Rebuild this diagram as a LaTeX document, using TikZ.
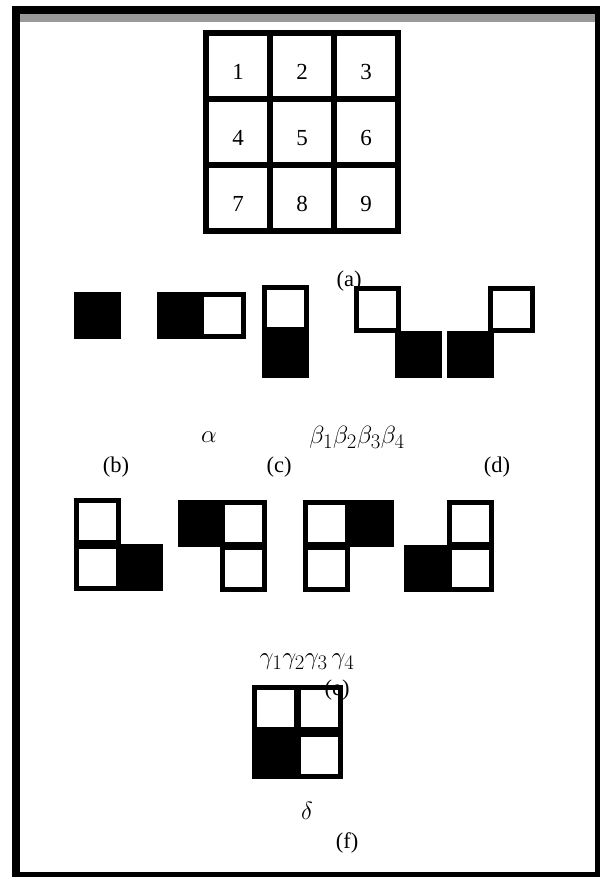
\documentclass[tikz,border=0pt]{standalone}
\usepackage{fontspec}
\setmainfont{Liberation Serif}
\usetikzlibrary{positioning}

\begin{document}
\begin{tikzpicture}[
            x=1pt, y=-1pt,
            numcell/.style={rectangle, draw=black, line width=5.5pt, fill=white,
                            minimum width=64pt, minimum height=66pt, inner sep=0pt,
                            text height=27pt, text depth=0pt,
                            font=\fontsize{23}{25}\selectfont},
            wsq/.style={rectangle, draw=black, line width=5pt, fill=white,
                        minimum size=42pt, inner sep=0pt},
            bsq/.style={rectangle, draw=black, line width=5pt, fill=black,
                        minimum size=42pt, inner sep=0pt},
            lbl/.style={inner sep=0pt, font=\fontsize{22.5}{24}\selectfont},
            sym/.style={inner sep=0pt, font=\fontsize{30}{32}\selectfont}
        ]
        \useasboundingbox (0,0) rectangle (600,877);
        % frame
        \fill[black] (12,6) rectangle (600,877);
        \fill[white] (20,14) rectangle (595,872);
        \fill[black!40] (20,14) rectangle (595,22);

        % (a) numbered grid
        \node[numcell] (g1) at (238,66) {1};
        \node[numcell] (g2) at (302,66) {2};
        \node[numcell] (g3) at (366,66) {3};
        \node[numcell] (g4) at (238,132) {4};
        \node[numcell] (g5) at (302,132) {5};
        \node[numcell] (g6) at (366,132) {6};
        \node[numcell] (g7) at (238,198) {7};
        \node[numcell] (g8) at (302,198) {8};
        \node[numcell] (g9) at (366,198) {9};
        \node[lbl] (capa) at (349,281) {(a)};

        % (b) alpha
        \node[bsq] (alphaA) at (97,315) {};
        % (c) beta shapes
        \node[bsq] (betaAb) at (180,315) {};
        \node[wsq] (betaAw) at (222,315) {};
        \node[wsq] (betaBw) at (285,308) {};
        \node[bsq] (betaBb) at (285,354) {};
        % (d)
        \node[wsq] (betaCw) at (377,309) {};
        \node[bsq] (betaCb) at (418,354) {};
        \node[bsq] (betaDb) at (470,354) {};
        \node[wsq] (betaDw) at (511,309) {};

        \node[sym] (alpha) at (209,437) {$\alpha$};
        \node[sym] (betas) at (357,437) {$\beta_1\beta_2\beta_3\beta_4$};
        \node[lbl] (capb) at (116,467) {(b)};
        \node[lbl] (capc) at (279,467) {(c)};
        \node[lbl] (capd) at (497,467) {(d)};

        % (e) gamma shapes
        \node[bsq] (gamAb) at (139,567) {};
        \node[wsq] (gamAt) at (97,521) {};
        \node[wsq] (gamAl) at (97,567) {};
        \node[bsq] (gamBb) at (201,523) {};
        \node[wsq] (gamBt) at (243,523) {};
        \node[wsq] (gamBl) at (243,568) {};
        \node[bsq] (gamCb) at (370,523) {};
        \node[wsq] (gamCt) at (326,523) {};
        \node[wsq] (gamCl) at (326,568) {};
        \node[bsq] (gamDb) at (427,568) {};
        \node[wsq] (gamDt) at (470,523) {};
        \node[wsq] (gamDl) at (470,568) {};

        \node[sym] (gammas) at (307,662) {$\gamma_1\gamma_2\gamma_3\,\gamma_4$};

        % (f) delta
        \node[wsq] (delA) at (275,708) {};
        \node[wsq] (delB) at (319,708) {};
        \node[bsq] (delC) at (275,755) {};
        \node[wsq] (delD) at (319,755) {};
        \node[lbl] (cape) at (337,690) {(e)};

        \node[sym] (delta) at (307,811) {$\delta$};
        \node[lbl] (capf) at (347,843) {(f)};
\end{tikzpicture}
\end{document}
